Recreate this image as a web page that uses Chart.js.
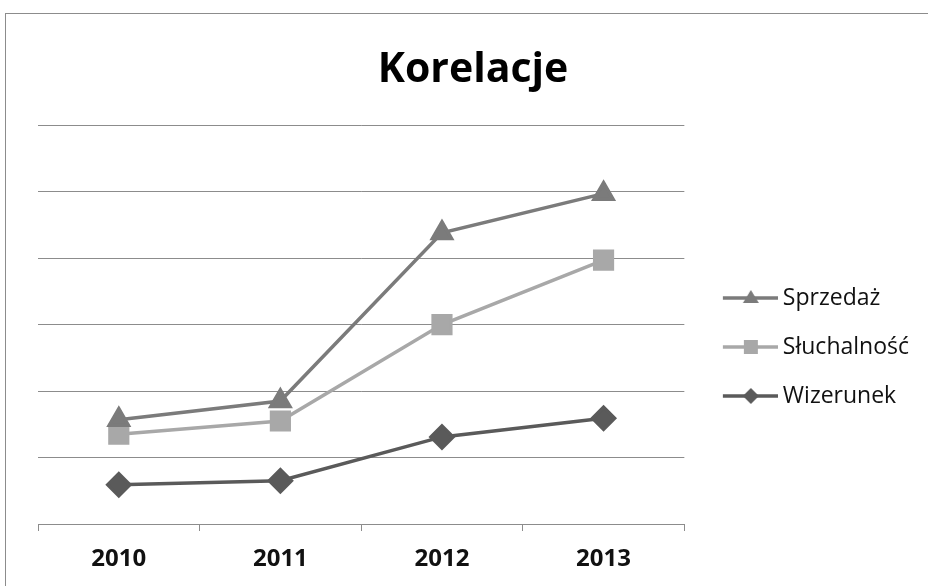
<!DOCTYPE html>
<html>
<head>
<meta charset="utf-8">
<script src="https://cdn.jsdelivr.net/npm/chart.js@4"></script>
<style>
  html, body { margin: 0; padding: 0; background: #fff; overflow: hidden; }
  #wrap { position: absolute; left: 5px; top: 13px; width: 940px; height: 666px; border: 1px solid #8c8c8c; }
</style>
</head>
<body>
<div id="wrap"><canvas id="chart"></canvas></div>
<script>
const years = ['2010', '2011', '2012', '2013'];
const sprzedaz = [1.57, 1.85, 4.38, 4.97];
const sluchalnosc = [1.35, 1.55, 3.0, 3.97];
const wizerunek = [0.59, 0.65, 1.31, 1.59];
const yTicks = [0, 1, 2, 3, 4, 5, 6];

const colors = ['#7b7b7b', '#a8a8a8', '#5a5a5a'];
const shapes = ['triangle', 'rect', 'rectRot'];

// line+marker icons for the legend, excel style
// image is wider than the legend box so the line sits right next to the text
const ICON_BOX = 61;
function legendIcon(color, shape) {
  const c = document.createElement('canvas');
  c.width = ICON_BOX + 13; c.height = 20;
  const g = c.getContext('2d');
  const x0 = c.width - 55, mid = c.width - 27;
  g.strokeStyle = color; g.lineWidth = 3.5;
  g.beginPath(); g.moveTo(x0, 10); g.lineTo(c.width, 10); g.stroke();
  g.fillStyle = color;
  g.beginPath();
  if (shape === 'triangle') { g.moveTo(mid, 2); g.lineTo(mid + 8, 15); g.lineTo(mid - 8, 15); }
  else if (shape === 'rect') { g.rect(mid - 7, 3, 14, 14); }
  else { g.moveTo(mid, 2); g.lineTo(mid + 8, 10); g.lineTo(mid, 18); g.lineTo(mid - 8, 10); }
  g.fill();
  return c;
}
const icons = colors.map((c, i) => legendIcon(c, shapes[i]));

const myChart = document.getElementById('chart').getContext('2d');
new Chart(myChart, {
  type: 'line',
  data: {
    labels: years,
    datasets: [
      { label: 'Sprzedaż', data: sprzedaz, borderColor: colors[0], backgroundColor: colors[0],
        pointStyle: 'triangle', pointRadius: 11, borderWidth: 3.5 },
      { label: 'Słuchalność', data: sluchalnosc, borderColor: colors[1], backgroundColor: colors[1],
        pointStyle: 'rect', pointRadius: 12.5, borderWidth: 3.5 },
      { label: 'Wizerunek', data: wizerunek, borderColor: colors[2], backgroundColor: colors[2],
        pointStyle: 'rectRot', pointRadius: 11, borderWidth: 3.5 }
    ]
  },
  options: {
    responsive: true,
    maintainAspectRatio: false,
    animation: false,
    layout: { padding: { left: 21, right: 27, bottom: 0, top: 0 } },
    plugins: {
      tooltip: { enabled: false },
      title: {
        display: true,
        text: 'Korelacje',
        color: '#000',
        font: { family: 'Open Sans', size: 41, weight: 'bold' },
        padding: { top: 32, bottom: 30 }
      },
      legend: {
        position: 'right',
        maxWidth: 400,
        labels: {
          usePointStyle: true,
          pointStyleWidth: ICON_BOX,
          padding: 26,
          color: '#111',
          font: { family: 'Open Sans', size: 23 },
          generateLabels: function(chart) {
            const items = Chart.defaults.plugins.legend.labels.generateLabels(chart);
            items.forEach((it, i) => { it.pointStyle = icons[i]; });
            return items;
          }
        }
      }
    },
    scales: {
      x: {
        offset: true,
        afterFit: function(scale) { scale.height = 156; },
        grid: { drawOnChartArea: false, drawTicks: true, tickLength: 7, color: '#8c8c8c', offset: true },
        border: { color: '#8c8c8c', width: 1 },
        ticks: { color: '#111', padding: 14, font: { family: 'Open Sans', size: 24, weight: 'bold' } }
      },
      y: {
        min: 0,
        max: 6,
        afterBuildTicks: function(scale) { scale.ticks = yTicks.map(v => ({ value: v })); },
        afterFit: function(scale) { scale.width = 11; },
        ticks: { display: false },
        grid: { color: '#8c8c8c', drawTicks: false },
        border: { display: false }
      }
    }
  }
});
</script>
</body>
</html>
